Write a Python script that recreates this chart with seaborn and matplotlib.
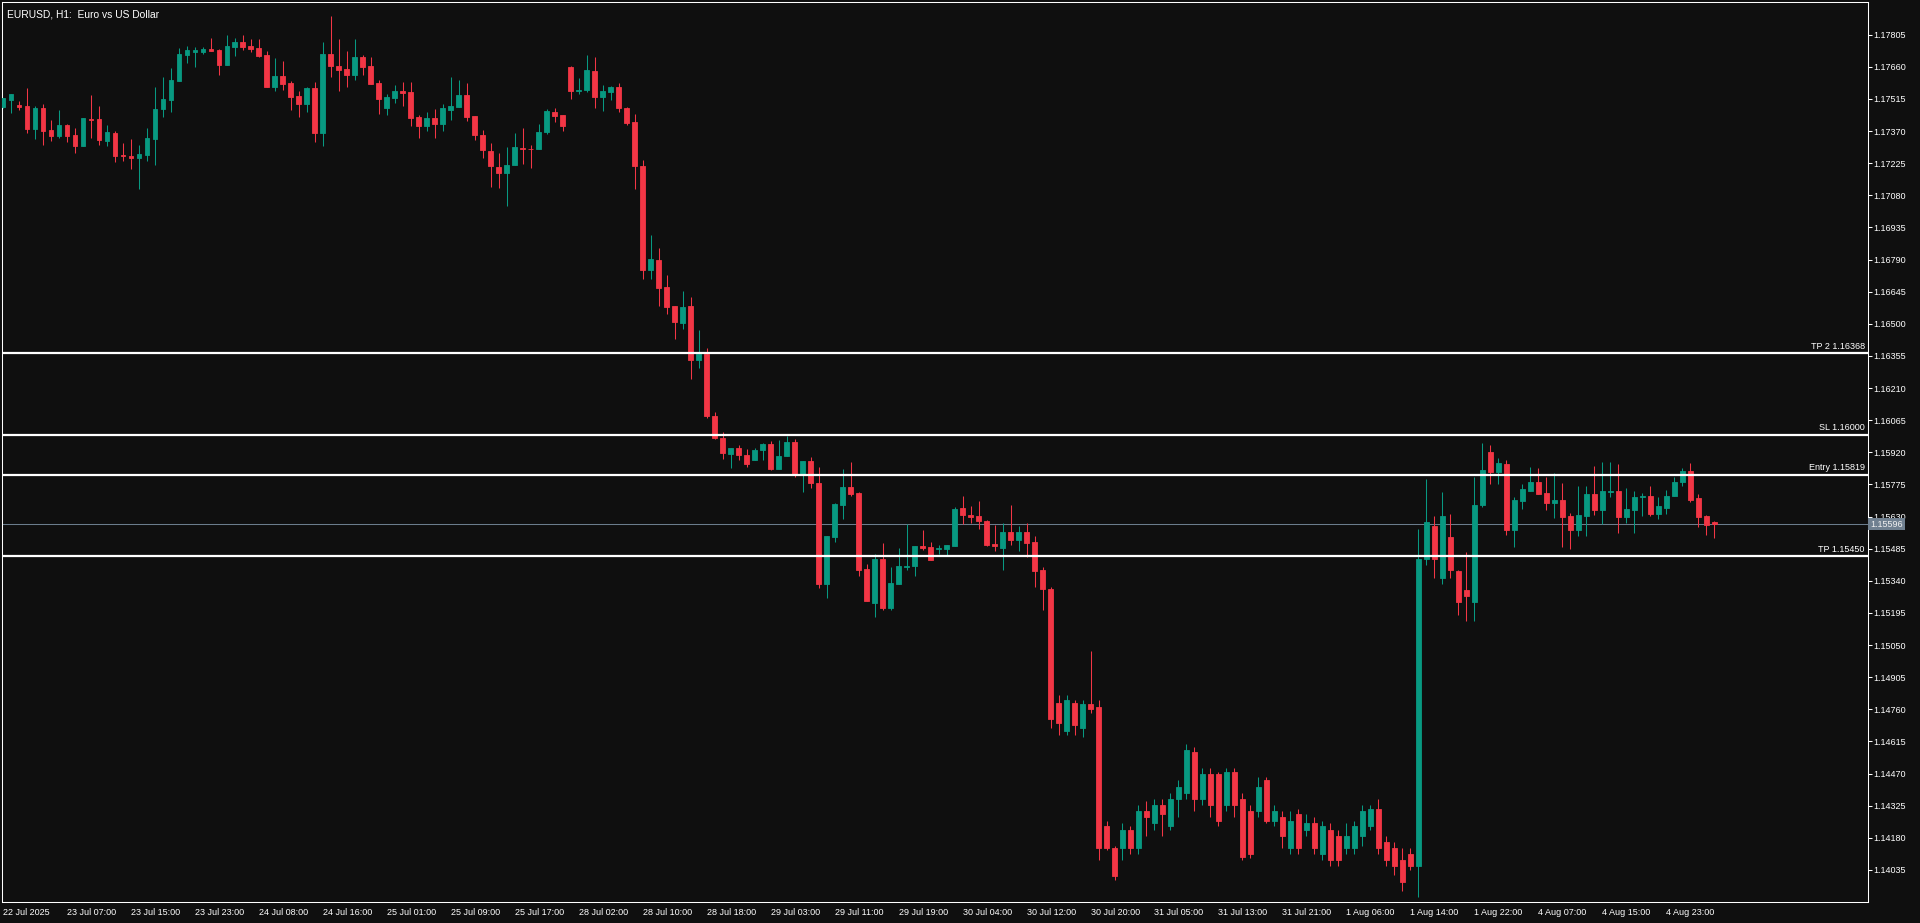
import numpy as np
import pandas as pd
import seaborn as sns
import matplotlib
matplotlib.use("Agg")
import matplotlib.pyplot as plt
import matplotlib.transforms as mtransforms
from matplotlib import font_manager as fm

# EURUSD H1 candles, prices in 1e-5 units (points)
opens = [
    117479, 117509, 117487, 117482, 117379, 117473, 117373, 117348, 117396, 117351,
    117302, 117425, 117423, 117325, 117360, 117260, 117256, 117248, 117262, 117334,
    117469, 117511, 117597, 117715, 117728, 117728, 117740, 117736, 117669, 117751,
    117772, 117754, 117745, 117713, 117570, 117618, 117586, 117527, 117493, 117564,
    117361, 117718, 117663, 117650, 117624, 117704, 117663, 117586, 117474, 117520,
    117550, 117545, 117432, 117393, 117428, 117402, 117465, 117479, 117532, 117437,
    117351, 117282, 117210, 117180, 117216, 117294, 117291, 117288, 117365, 117454,
    117441, 117658, 117551, 117556, 117640, 117524, 117547, 117568, 117473, 117409,
    117214, 116745, 116788, 116666, 116580, 116504, 116580, 116337, 116364, 116086,
    115986, 115914, 115941, 115909, 115884, 115929, 115959, 115843, 115902, 115968,
    115817, 115882, 115783, 115326, 115539, 115684, 115764, 115737, 115393, 115240,
    115440, 115218, 115326, 115404, 115408, 115497, 115493, 115485, 115485, 115499,
    115669, 115637, 115634, 115611, 115507, 115490, 115561, 115526, 115561, 115516,
    115390, 115304, 114789, 114661, 114789, 114678, 114783, 114772, 114234, 114134,
    114134, 114217, 114134, 114300, 114245, 114328, 114234, 114356, 114384, 114567,
    114356, 114467, 114467, 114328, 114478, 114356, 114300, 114300, 114439, 114256,
    114273, 114134, 114289, 114217, 114245, 114106, 114217, 114189, 114134, 114134,
    114189, 114234, 114311, 114162, 114134, 114078, 114106, 114051, 115438, 115588,
    115354, 115538, 115384, 115299, 115243, 115683, 115923, 115832, 115868, 115571,
    115702, 115746, 115787, 115737, 115693, 115705, 115633, 115571, 115634, 115732,
    115661, 115741, 115746, 115630, 115661, 115717, 115723, 115643, 115670, 115723,
    115784, 115837, 115714, 115633, 115604,
]
highs = [
    117520, 117536, 117505, 117564, 117482, 117491, 117419, 117464, 117401, 117382,
    117428, 117532, 117482, 117396, 117369, 117314, 117333, 117305, 117382, 117568,
    117613, 117654, 117745, 117754, 117749, 117749, 117790, 117740, 117804, 117790,
    117804, 117786, 117786, 117731, 117700, 117686, 117595, 117550, 117568, 117591,
    117772, 117890, 117786, 117731, 117786, 117713, 117704, 117600, 117536, 117577,
    117591, 117591, 117441, 117455, 117469, 117491, 117613, 117600, 117586, 117437,
    117373, 117314, 117273, 117300, 117359, 117386, 117309, 117400, 117468, 117473,
    117441, 117663, 117608, 117712, 117705, 117577, 117572, 117586, 117477, 117445,
    117241, 116902, 116843, 116720, 116580, 116648, 116621, 116471, 116390, 116104,
    116014, 115941, 115955, 115937, 115941, 115964, 115973, 115977, 115993, 115982,
    115882, 115900, 115855, 115542, 115692, 115846, 115878, 115742, 115416, 115461,
    115511, 115402, 115488, 115597, 115497, 115570, 115515, 115502, 115502, 115674,
    115724, 115679, 115701, 115615, 115593, 115602, 115683, 115588, 115602, 115543,
    115404, 115310, 114827, 114827, 114800, 114800, 115022, 114800, 114256, 114145,
    114245, 114234, 114328, 114345, 114356, 114356, 114384, 114439, 114605, 114589,
    114494, 114494, 114478, 114494, 114494, 114384, 114328, 114456, 114456, 114328,
    114300, 114300, 114311, 114289, 114273, 114256, 114245, 114217, 114245, 114256,
    114328, 114328, 114356, 114189, 114162, 114134, 114134, 115576, 115798, 115632,
    115743, 115643, 115390, 115470, 115809, 115963, 115954, 115896, 115886, 115719,
    115778, 115855, 115850, 115809, 115828, 115782, 115646, 115769, 115769, 115859,
    115877, 115877, 115868, 115760, 115746, 115737, 115769, 115719, 115751, 115809,
    115850, 115873, 115732, 115637, 115610,
]
lows = [
    117476, 117452, 117467, 117361, 117334, 117307, 117325, 117339, 117320, 117271,
    117302, 117339, 117307, 117302, 117230, 117234, 117198, 117108, 117234, 117216,
    117434, 117456, 117597, 117678, 117660, 117719, 117733, 117624, 117669, 117710,
    117737, 117728, 117706, 117570, 117552, 117556, 117465, 117434, 117456, 117320,
    117302, 117615, 117552, 117570, 117601, 117624, 117583, 117447, 117443, 117497,
    117484, 117393, 117339, 117370, 117339, 117370, 117420, 117479, 117416, 117330,
    117248, 117116, 117112, 117030, 117216, 117220, 117202, 117288, 117356, 117411,
    117370, 117515, 117537, 117547, 117474, 117460, 117510, 117456, 117397, 117107,
    116704, 116704, 116581, 116545, 116432, 116477, 116251, 116301, 116074, 115979,
    115888, 115848, 115884, 115852, 115884, 115884, 115839, 115843, 115902, 115807,
    115739, 115761, 115308, 115263, 115517, 115621, 115721, 115363, 115249, 115177,
    115209, 115209, 115326, 115390, 115363, 115481, 115435, 115462, 115458, 115499,
    115598, 115599, 115572, 115495, 115476, 115390, 115504, 115476, 115449, 115313,
    115209, 114678, 114644, 114644, 114644, 114633, 114744, 114078, 114123, 113990,
    114078, 114106, 114106, 114189, 114217, 114189, 114217, 114273, 114356, 114300,
    114328, 114273, 114234, 114300, 114273, 114078, 114089, 114273, 114245, 114234,
    114134, 114106, 114106, 114189, 114106, 114078, 114051, 114051, 114106, 114106,
    114145, 114217, 114106, 114051, 114012, 113940, 114034, 113912, 115410, 115354,
    115327, 115354, 115188, 115160, 115160, 115673, 115775, 115775, 115548, 115494,
    115666, 115746, 115732, 115661, 115625, 115494, 115485, 115544, 115544, 115639,
    115598, 115720, 115557, 115603, 115557, 115634, 115634, 115621, 115643, 115723,
    115770, 115698, 115584, 115548, 115535,
]
closes = [
    117517, 117536, 117479, 117379, 117473, 117370, 117348, 117396, 117348, 117302,
    117428, 117422, 117330, 117364, 117257, 117257, 117248, 117265, 117337, 117469,
    117514, 117600, 117718, 117736, 117736, 117740, 117733, 117669, 117754, 117772,
    117751, 117742, 117710, 117570, 117618, 117583, 117524, 117493, 117564, 117361,
    117718, 117665, 117647, 117624, 117704, 117660, 117583, 117515, 117523, 117550,
    117542, 117429, 117393, 117428, 117402, 117473, 117482, 117532, 117434, 117352,
    117284, 117211, 117180, 117219, 117296, 117288, 117287, 117368, 117459, 117438,
    117392, 117551, 117557, 117645, 117524, 117550, 117568, 117474, 117406, 117211,
    116745, 116793, 116663, 116577, 116509, 116576, 116337, 116364, 116083, 115983,
    115915, 115941, 115906, 115866, 115932, 115959, 115843, 115905, 115968, 115817,
    115882, 115780, 115326, 115542, 115687, 115764, 115734, 115390, 115249, 115440,
    115218, 115330, 115407, 115407, 115497, 115490, 115435, 115488, 115502, 115665,
    115635, 115630, 115608, 115504, 115495, 115561, 115526, 115561, 115513, 115386,
    115304, 114716, 114700, 114800, 114689, 114783, 114761, 114134, 114134, 114006,
    114217, 114134, 114300, 114273, 114328, 114289, 114356, 114411, 114578, 114356,
    114467, 114328, 114256, 114478, 114328, 114095, 114106, 114411, 114256, 114300,
    114189, 114256, 114134, 114245, 114134, 114234, 114078, 114078, 114189, 114234,
    114300, 114311, 114134, 114078, 114051, 113979, 114051, 115438, 115604, 115438,
    115632, 115388, 115243, 115271, 115683, 115841, 115832, 115873, 115571, 115705,
    115755, 115787, 115732, 115693, 115705, 115630, 115571, 115637, 115732, 115661,
    115746, 115746, 115630, 115664, 115719, 115723, 115643, 115678, 115723, 115787,
    115837, 115707, 115630, 115593, 115596,
]

time_labels = [
    "22 Jul 2025", "23 Jul 07:00", "23 Jul 15:00", "23 Jul 23:00", "24 Jul 08:00",
    "24 Jul 16:00", "25 Jul 01:00", "25 Jul 09:00", "25 Jul 17:00", "28 Jul 02:00",
    "28 Jul 10:00", "28 Jul 18:00", "29 Jul 03:00", "29 Jul 11:00", "29 Jul 19:00",
    "30 Jul 04:00", "30 Jul 12:00", "30 Jul 20:00", "31 Jul 05:00", "31 Jul 13:00",
    "31 Jul 21:00", "1 Aug 06:00", "1 Aug 14:00", "1 Aug 22:00", "4 Aug 07:00",
    "4 Aug 15:00", "4 Aug 23:00",
]
bars_per_label = 8

price_ticks = [
    1.17805, 1.17660, 1.17515, 1.17370, 1.17225, 1.17080, 1.16935, 1.16790, 1.16645,
    1.16500, 1.16355, 1.16210, 1.16065, 1.15920, 1.15775, 1.15630, 1.15485, 1.15340,
    1.15195, 1.15050, 1.14905, 1.14760, 1.14615, 1.14470, 1.14325, 1.14180, 1.14035,
]

level_names = ["TP 2", "SL", "Entry", "TP"]
level_prices = [1.16368, 1.16000, 1.15819, 1.15450]
last_price = 1.15596

df = pd.DataFrame({"open": opens, "high": highs, "low": lows, "close": closes}) / 1e5
df["bar"] = np.arange(len(df))
df["up"] = df["close"] >= df["open"]

BG = "#0f0f0f"
UP = "#089981"
DOWN = "#f23645"
FG = "#ffffff"

sns.set_theme(style="dark", rc={
    "axes.facecolor": BG, "figure.facecolor": BG, "axes.edgecolor": FG,
    "axes.grid": False, "xtick.color": FG, "ytick.color": FG,
    "text.color": FG, "axes.linewidth": 0.75,
})

# narrow label font like the terminal's; fall back to a smaller regular sans
installed = {f.name for f in fm.fontManager.ttflist}
if "Liberation Sans Narrow" in installed:
    small = fm.FontProperties(family="Liberation Sans Narrow", size=7.6)
else:
    small = fm.FontProperties(family="Liberation Sans", size=6.5)
plt.rcParams["font.family"] = ["Liberation Sans", "DejaVu Sans"]

fig = plt.figure(figsize=(19.2, 9.23), dpi=100)
ax = fig.add_axes([2 / 1920, 21 / 923, 1865.5 / 1920, 900 / 923])

colors = np.where(df["up"], UP, DOWN)
ax.vlines(df["bar"], df["low"], df["high"], colors=colors, linewidth=0.75, zorder=2)
body_bottom = np.minimum(df["open"], df["close"])
body_height = (df["open"] - df["close"]).abs()
ax.bar(df["bar"], body_height, bottom=body_bottom, width=0.56, color=colors,
       edgecolor=colors, linewidth=0.6, zorder=3)

# trade levels
trans = mtransforms.blended_transform_factory(ax.transAxes, ax.transData)
for name, price in zip(level_names, level_prices):
    ax.axhline(price, color=FG, linewidth=1.6, zorder=4)
    ax.annotate(f"{name} {price:.5f}", xy=(1.0, price), xycoords=trans,
                xytext=(-2, 1.6), textcoords="offset points", ha="right", va="bottom",
                fontproperties=small, color=FG)

ax.axhline(last_price, color="#6b7c8c", linewidth=0.75, zorder=1)

ax.set_xlim(-0.1, 233.15)
ax.set_ylim(1.138905, 1.179525)

ax.yaxis.tick_right()
ax.set_yticks(price_ticks)
ax.set_yticklabels([f"{p:.5f}" for p in price_ticks])
ax.set_xticks(np.arange(len(time_labels)) * bars_per_label)
ax.set_xticklabels(time_labels)
ax.tick_params(axis="both", direction="out", length=3, width=0.75, colors=FG, pad=1.5)
ax.tick_params(axis="x", pad=1.5)
for lab in ax.get_xticklabels() + ax.get_yticklabels():
    lab.set_fontproperties(small)
for lab in ax.get_xticklabels():
    lab.set_horizontalalignment("left")

ax.text(1.0014, last_price, f"{last_price:.5f}", transform=trans, ha="left", va="center",
        fontproperties=small, color="#f0f0f0", zorder=6, clip_on=False,
        bbox=dict(boxstyle="square,pad=0.2", fc="#708090", ec="none"))

ax.text(0.0027, 0.992, "EURUSD, H1:  Euro vs US Dollar", transform=ax.transAxes,
        ha="left", va="top", fontsize=7.4, color=FG)

for s in ax.spines.values():
    s.set_color(FG)
    s.set_linewidth(0.75)

fig.savefig("out.png", dpi=100, facecolor=BG)
